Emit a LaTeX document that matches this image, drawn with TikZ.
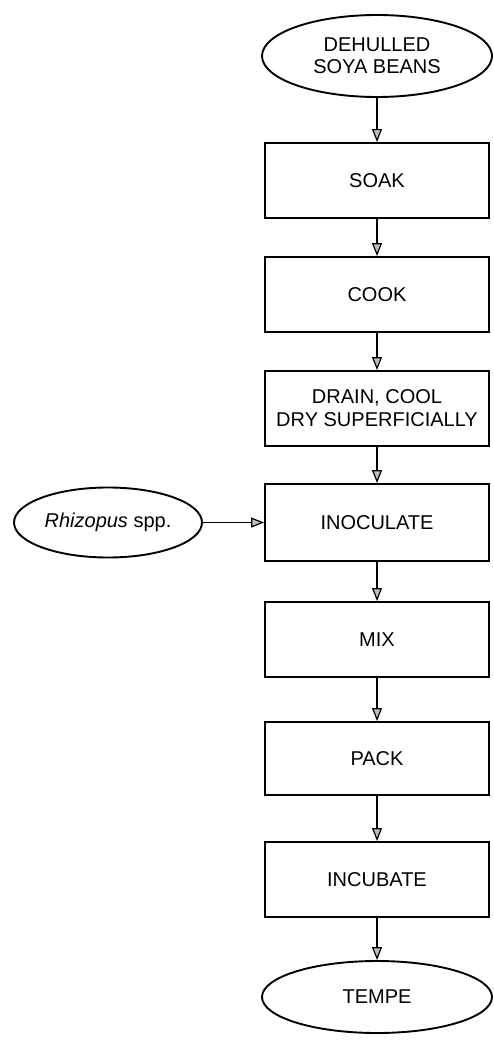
\documentclass[tikz,border=0pt]{standalone}
\usepackage{fontspec}
\setmainfont{Liberation Sans}
\usetikzlibrary{shapes.geometric,arrows.meta}

\tikzset{
  stepbox/.style={draw, line width=1.9pt, rectangle, minimum width=224pt, minimum height=75pt,
    inner sep=0pt, align=center, font=\fontsize{20}{23}\selectfont},
  terminal/.style={draw, line width=1.9pt, ellipse, inner sep=0pt, align=center,
    font=\fontsize{20}{22}\selectfont},
  flow/.style={line width=1.9pt, -{Triangle[length=13pt,width=10pt,fill=gray!50,line width=1.2pt]}}
}

\begin{document}
\begin{tikzpicture}[x=1pt,y=-1pt]
  \useasboundingbox (0,0) rectangle (493,1043);

  % main process column
  \node[terminal, minimum width=230pt, minimum height=82pt] (beans) at (377,56) {DEHULLED\\SOYA BEANS};
  \node[stepbox] (soak)  at (377,180.5) {SOAK};
  \node[stepbox] (cook)  at (377,294.5) {COOK};
  \node[stepbox] (drain) at (377,408.5) {DRAIN, COOL\\DRY SUPERFICIALLY};
  \node[stepbox, minimum height=77pt] (inoc) at (377,522.5) {INOCULATE};
  \node[stepbox] (mix)   at (377,639.5) {MIX};
  \node[stepbox, minimum height=73pt] (pack)  at (377,758.5) {PACK};
  \node[stepbox] (incub) at (377,879.5) {INCUBATE};
  \node[terminal, minimum width=230pt, minimum height=72pt] (tempe) at (377,997) {TEMPE};

  % starter culture
  \node[terminal, minimum width=188pt, minimum height=70pt] (rhiz) at (108,522.5) {\textit{Rhizopus} spp.};

  % connectors
  \draw[flow] (beans) -- (soak);
  \draw[flow] (soak) -- (cook);
  \draw[flow] (cook) -- (drain);
  \draw[flow] (drain) -- (inoc);
  \draw[flow] (inoc) -- (mix);
  \draw[flow] (mix) -- (pack);
  \draw[flow] (pack) -- (incub);
  \draw[flow] (incub) -- (tempe);
  \draw[flow] (rhiz) -- (inoc);
\end{tikzpicture}
\end{document}
